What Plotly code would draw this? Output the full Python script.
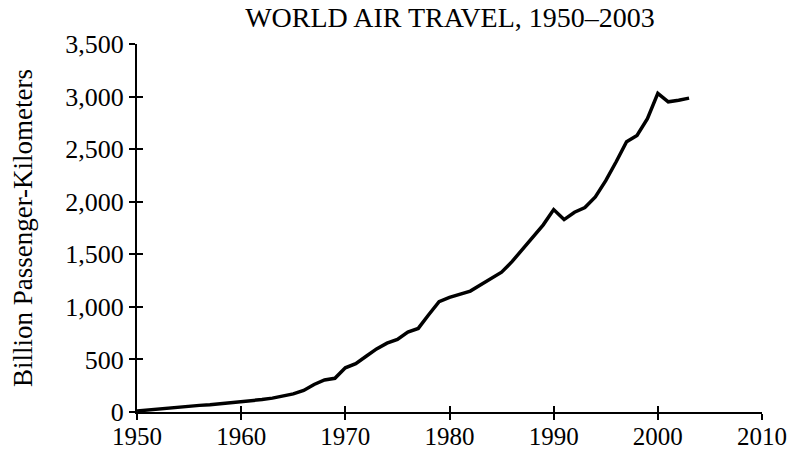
import plotly.graph_objects as go

years = list(range(1950, 2004))
passenger_km = [
    10, 20, 30, 40, 48, 55, 63, 70, 78, 86,          # 1950-1959
    95, 105, 118, 132, 150, 172, 205, 262, 305, 320,  # 1960-1969
    420, 460, 530, 600, 655, 690, 760, 795, 925, 1050,  # 1970-1979
    1090, 1120, 1150, 1210, 1270, 1330, 1430, 1550, 1670, 1780,  # 1980-1989
    1925, 1830, 1900, 1945, 2045, 2200, 2380, 2570, 2630, 2790,  # 1990-1999
    3030, 2950, 2965, 2985,  # 2000-2003
]

x_ticks = [1950, 1960, 1970, 1980, 1990, 2000, 2010]
y_ticks = [0, 500, 1000, 1500, 2000, 2500, 3000, 3500]
title_text = "WORLD AIR TRAVEL, 1950\u20132003"
y_title = "Billion Passenger-Kilometers"

FONT = "Liberation Serif"
tick_size = 26

W, H = 792, 451

fig = go.Figure()
fig.add_trace(go.Scatter(
    x=years, y=passenger_km, mode="lines",
    line=dict(color="black", width=3.5, shape="linear"),
    hoverinfo="skip", showlegend=False,
))
# invisible trace to anchor overlay axes (inside half of the crossing ticks)
fig.add_trace(go.Scatter(
    x=[x_ticks[0]], y=[y_ticks[0]], xaxis="x2", yaxis="y2",
    mode="markers", marker=dict(opacity=0), hoverinfo="skip", showlegend=False,
))

common_axis = dict(
    showgrid=False, zeroline=False, showline=True, linecolor="black",
    linewidth=2, tickcolor="black", tickwidth=1.5, ticklen=6, automargin=False,
)

fig.update_layout(
    width=W, height=H,
    margin=dict(l=137, r=30, t=44, b=39),
    paper_bgcolor="white", plot_bgcolor="white",
    font=dict(family=FONT, size=tick_size, color="black"),
    title=dict(text=title_text, x=450 / W, xanchor="center",
               yref="container", y=1 - 17 / H, yanchor="middle",
               font=dict(family=FONT, size=28, color="black"), automargin=False),
    xaxis=dict(range=[1950, 2010], tickvals=x_ticks, ticktext=[str(v) for v in x_ticks],
               ticks="outside", ticklabelstandoff=-5,
               tickfont=dict(family=FONT, size=25, color="black"), **common_axis),
    yaxis=dict(range=[0, 3500], tickvals=y_ticks, tickformat=",d",
               ticks="outside",
               title=dict(text=y_title, standoff=25, font=dict(family=FONT, size=27)),
               **common_axis),
    xaxis2=dict(range=[1950, 2010], tickvals=x_ticks, ticks="inside",
                showticklabels=False, overlaying="x", anchor="y2", **common_axis),
    yaxis2=dict(range=[0, 3500], tickvals=y_ticks, ticks="inside",
                showticklabels=False, overlaying="y", anchor="x2", side="left",
                **common_axis),
)

fig.write_html("out.html", config={"displayModeBar": False},
               post_script="document.body.style.margin='0';")
